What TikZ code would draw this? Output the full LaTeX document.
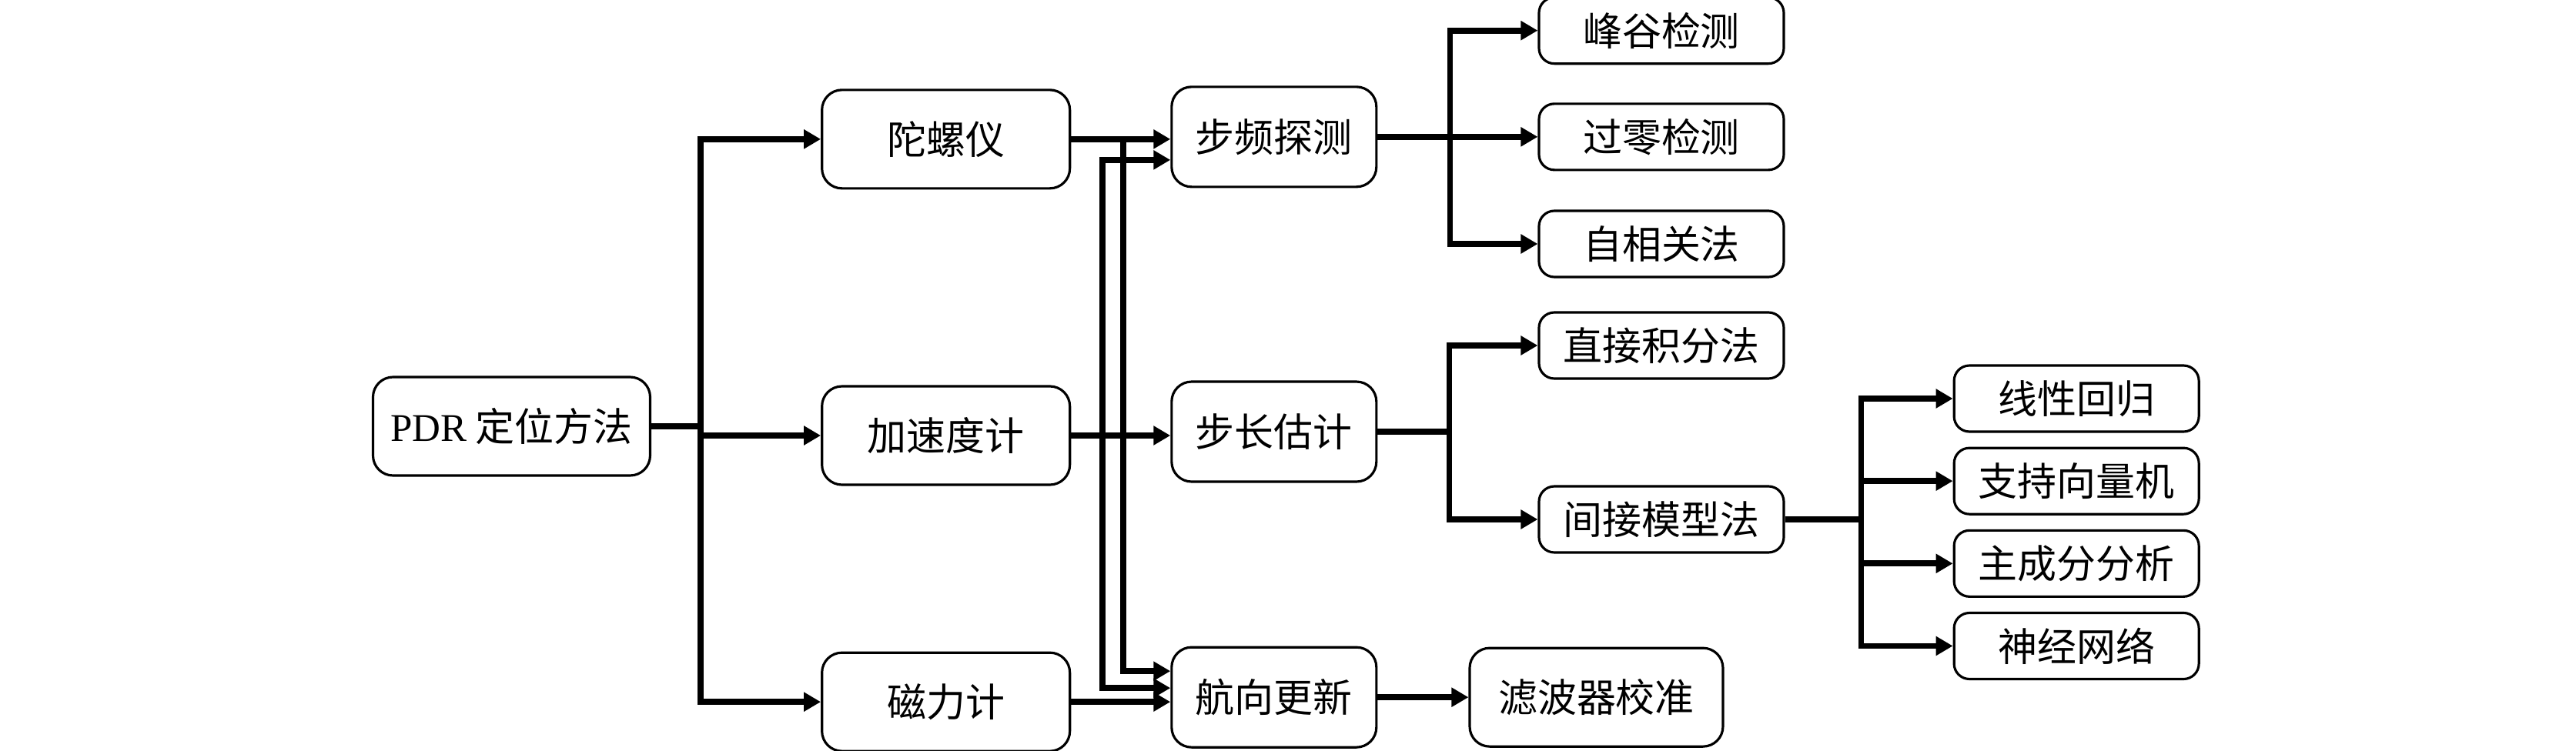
\documentclass[tikz,border=0pt]{standalone}
\usepackage{fontspec}
\setmainfont{Liberation Serif}
\newfontfamily\cjk{Noto Sans CJK SC}
\usetikzlibrary{positioning, arrows.meta}

\begin{document}
\begin{tikzpicture}[>={Triangle[length=2.2mm, width=2.4mm]},
    box/.style={draw, rounded corners=2.6mm, line width=0.9pt, align=center,
      minimum height=12.8mm, inner sep=2pt, font=\cjk\fontsize{14.5}{17}\selectfont},
    sensor/.style={box, minimum width=32.2mm},
    proc/.style={box, minimum width=26.6mm, minimum height=13mm},
    leaf/.style={box, minimum width=31.8mm, minimum height=8.6mm, rounded corners=2mm},
    wire/.style={line width=2.2pt},
    feed/.style={wire, ->}]
  \useasboundingbox (-66.45mm,-42.1mm) rectangle (268.15mm,55.4mm);
  \node[box, minimum width=36mm] (pdr) {{\rmfamily PDR} 定位方法};
  \node[sensor, right=22mm of pdr, yshift=-1.2mm] (acc) {加速度计};
  \node[sensor, above=25.4mm of acc] (gyro) {陀螺仪};
  \node[sensor, below=21.5mm of acc] (mag) {磁力计};
  \node[proc, right=12.9mm of gyro, yshift=0.3mm] (stepf) {步频探测};
  \node[proc, right=12.9mm of acc, yshift=0.5mm] (stepl) {步长估计};
  \node[proc, right=12.9mm of mag, yshift=0.6mm] (head) {航向更新};
  \node[box, minimum width=32.9mm, right=11.8mm of head] (filt) {滤波器校准};
  \node[leaf, right=20.8mm of stepf] (zero) {过零检测};
  \node[leaf, above=4.9mm of zero] (peak) {峰谷检测};
  \node[leaf, below=5mm of zero] (auto) {自相关法};
  \node[leaf, right=20.8mm of stepl, yshift=11.2mm] (direct) {直接积分法};
  \node[leaf, right=20.8mm of stepl, yshift=-11.4mm] (indir) {间接模型法};
  \node[leaf, right=21.8mm of indir, yshift=15.7mm] (lin) {线性回归};
  \node[leaf, below=1.8mm of lin] (svm) {支持向量机};
  \node[leaf, below=1.8mm of svm] (pca) {主成分分析};
  \node[leaf, below=1.8mm of pca] (nn) {神经网络};

  \coordinate[right=6.4mm of pdr] (trunk);
  \coordinate[right=6.8mm of gyro] (gyrobus);
  \coordinate[right=4.1mm of acc] (accbus);
  \coordinate[right=9.4mm of stepf] (stepfbus);
  \coordinate[right=9.3mm of stepl] (steplbus);
  \coordinate[right=9.9mm of indir] (indirbus);

  % sensors
  \draw[wire] (pdr.east) -- (trunk);
  \foreach \s in {gyro, acc, mag}
    \draw[feed] (trunk) |- (\s.west);
  \draw[feed] (gyro.east) -- (gyro.east -| stepf.west);
  \draw[feed] (gyro.east) -- (gyrobus) |- ([yshift=3.4mm]head.west);
  \draw[feed] (acc.east) -- (acc.east -| stepl.west);
  \draw[feed] (accbus) |- ([yshift=-3mm]stepf.west);
  \draw[feed] (accbus) |- ([yshift=1.2mm]head.west);
  \draw[feed] (mag.east) -- (mag.east -| head.west);
  \draw[feed] (head.east) -- (filt.west);

  % methods
  \draw[wire] (stepf.east) -- (stepfbus);
  \foreach \m in {peak, zero, auto}
    \draw[feed] (stepfbus) |- (\m.west);
  \draw[wire] (stepl.east) -- (steplbus);
  \foreach \m in {direct, indir}
    \draw[feed] (steplbus) |- (\m.west);
  \draw[wire] (indir.east) -- (indirbus);
  \foreach \m in {lin, svm, pca, nn}
    \draw[feed] (indirbus) |- (\m.west);
\end{tikzpicture}
\end{document}
